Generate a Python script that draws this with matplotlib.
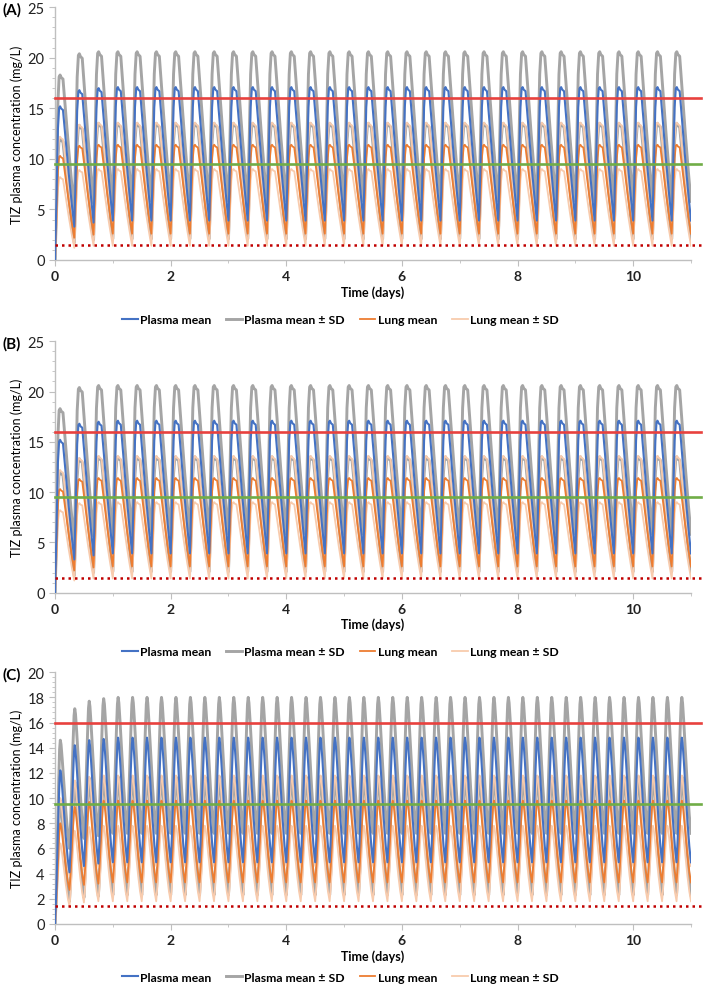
#!/usr/bin/env python3
import matplotlib
matplotlib.use("Agg")
import matplotlib.pyplot as plt
from matplotlib.ticker import MultipleLocator

plt.rcParams['font.family'] = ['Lato', 'DejaVu Sans']

# Thresholds (mg/L)
RED_LINE = 16.0
GREEN_LINE = 9.5
DOTTED_LINE = 1.45

# Dosing for panels A/B: every 8 h, panel C: every 6 h, 11 days
INTERVAL_AB = 8
INTERVAL_C = 6
N_DOSES_AB = 33
N_DOSES_C = 44

# Shape of one dosing cycle (hours after dose, fraction of peak)
SHAPE_AB_HOURS = [0, 0.6, 1.2, 1.7, 2.1, 2.6, 3.3, 4.5, 5.7, 6.9, 8.0]
SHAPE_AB_FRAC = [0, 0.40, 0.85, 0.99, 1.0, 0.98, 0.97, 0.70, 0.44, 0.20, 0]
SHAPE_AB_PEAK = 4
SHAPE_C_HOURS = [0, 0.5, 1.0, 1.5, 1.9, 2.2, 2.5, 3.0, 3.7, 4.5, 5.3, 6.0]
SHAPE_C_FRAC = [0, 0.20, 0.48, 0.76, 0.95, 1.0, 0.96, 0.82, 0.60, 0.34, 0.13, 0]
SHAPE_C_PEAK = 5

# Peaks per dose (first doses, last value holds for the rest), troughs at dose times
AB_PLASMA_PEAK = [15.2, 16.8, 17.0, 17.1]
AB_PLASMA_TROUGH = [0, 3.3, 3.7, 3.9]
AB_PLASMA_HI_PEAK = [18.3, 20.4, 20.6]
AB_PLASMA_HI_TROUGH = [0, 5.0, 5.6, 5.8]
AB_PLASMA_LO_PEAK = [12.0, 13.3, 13.5]
AB_PLASMA_LO_TROUGH = [0, 1.7, 2.0, 2.1]
AB_LUNG_PEAK = [10.3, 11.3, 11.4]
AB_LUNG_TROUGH = [0, 2.2, 2.5, 2.6]
AB_LUNG_HI_PEAK = [12.2, 13.4, 13.6]
AB_LUNG_HI_TROUGH = [0, 3.3, 3.6, 3.7]
AB_LUNG_LO_PEAK = [8.2, 8.9, 9.0]
AB_LUNG_LO_TROUGH = [0, 1.2, 1.4, 1.4]

C_PLASMA_PEAK = [12.2, 14.2, 14.6, 14.7, 14.8]
C_PLASMA_TROUGH = [0, 4.1, 4.6, 4.8, 4.9]
C_PLASMA_HI_PEAK = [14.6, 17.1, 17.7, 17.9, 18.0]
C_PLASMA_HI_TROUGH = [0, 6.0, 6.8, 7.0, 7.2]
C_PLASMA_LO_PEAK = [9.8, 11.3, 11.6, 11.7, 11.7]
C_PLASMA_LO_TROUGH = [0, 1.8, 2.1, 2.2, 2.3]
C_LUNG_PEAK = [8.0, 9.3, 9.7, 9.8]
C_LUNG_TROUGH = [0, 2.7, 3.1, 3.2, 3.3]
C_LUNG_HI_PEAK = [10.0, 11.4, 11.7, 11.8]
C_LUNG_HI_TROUGH = [0, 3.8, 4.3, 4.5, 4.6]
C_LUNG_LO_PEAK = [6.4, 7.4, 7.7, 7.8]
C_LUNG_LO_TROUGH = [0, 1.4, 1.7, 1.8, 1.8]

PLASMA = '#4472C4'
PLASMA_SD = '#A5A5A5'
LUNG = '#ED7D31'
LUNG_SD = '#F8CBAD'
AXIS_GREY = '#BFBFBF'


def curve(peaks, troughs, n_doses, interval, hours, frac, peak_idx):
    t, y = [], []
    for i in range(n_doses):
        p = peaks[min(i, len(peaks) - 1)]
        lo0 = troughs[min(i, len(troughs) - 1)]
        lo1 = troughs[min(i + 1, len(troughs) - 1)]
        for j, (h, f) in enumerate(zip(hours, frac)):
            if i > 0 and j == 0:
                continue
            base = lo0 if j <= peak_idx else lo1
            t.append((i * interval + h) / 24.0)
            y.append(base + f * (p - base))
    return t, y


def draw_panel(rect, tag, series, n_doses, interval, hours, frac, peak_idx,
               ymax, ymajor, legend_y):
    ax = fig.add_axes(rect)
    (pm, pmt, phi, phit, plo, plot_, lm, lmt, lhi, lhit, llo, llot) = series
    args = (n_doses, interval, hours, frac, peak_idx)

    t, y = curve(phi, phit, *args)
    ax.plot(t, y, color=PLASMA_SD, lw=2.1, label='Plasma mean \u00b1 SD', zorder=2)
    t, y = curve(plo, plot_, *args)
    ax.plot(t, y, color=PLASMA_SD, lw=2.1, zorder=2)
    t, y = curve(lhi, lhit, *args)
    ax.plot(t, y, color=LUNG_SD, lw=1.3, label='Lung mean \u00b1 SD', zorder=3)
    t, y = curve(llo, llot, *args)
    ax.plot(t, y, color=LUNG_SD, lw=1.3, zorder=3)
    t, y = curve(lm, lmt, *args)
    ax.plot(t, y, color=LUNG, lw=1.3, label='Lung mean', zorder=4)
    t, y = curve(pm, pmt, *args)
    ax.plot(t, y, color=PLASMA, lw=1.5, label='Plasma mean', zorder=5)

    ax.plot([0, 11.17], [RED_LINE, RED_LINE], color='#E8413E', lw=1.9,
            clip_on=False, zorder=6)
    ax.plot([0, 11.17], [GREEN_LINE, GREEN_LINE], color='#70AD47', lw=1.9,
            clip_on=False, zorder=6)
    ax.plot([0, 11.17], [DOTTED_LINE, DOTTED_LINE], color='#C00000', lw=1.8,
            ls=(0, (1, 1.6)), clip_on=False, zorder=6)

    ax.set_xlim(0, 11)
    ax.set_ylim(0, ymax)
    ax.xaxis.set_major_locator(MultipleLocator(2))
    ax.xaxis.set_minor_locator(MultipleLocator(1))
    ax.yaxis.set_major_locator(MultipleLocator(ymajor))
    ax.yaxis.set_minor_locator(MultipleLocator(ymajor / 5))
    for s in ['top', 'right']:
        ax.spines[s].set_visible(False)
    for s in ['left', 'bottom']:
        ax.spines[s].set_color(AXIS_GREY)
        ax.spines[s].set_linewidth(1.0)
    ax.tick_params(which='both', direction='out', color=AXIS_GREY, labelcolor='#222222')
    ax.tick_params(which='major', length=4)
    ax.tick_params(axis='y', which='major', labelsize=10.5)
    ax.tick_params(axis='x', which='major', labelsize=10)
    ax.tick_params(which='minor', length=2.5)
    for lab in ax.get_xticklabels():
        lab.set_fontweight('bold')
    ax.set_xlabel('Time (days)', fontsize=9, fontweight='bold', labelpad=2)
    ax.set_ylabel('TIZ plasma concentration (mg/L)', fontsize=9)
    ax.yaxis.set_label_coords(-0.05, 0.5)

    fig.text(0.004, rect[1] + rect[3] - 0.002, tag, fontsize=11,
             fontweight='bold', va='center', ha='left')

    h, l = ax.get_legend_handles_labels()
    order = ['Plasma mean', 'Plasma mean \u00b1 SD', 'Lung mean', 'Lung mean \u00b1 SD']
    hs = [h[l.index(o)] for o in order]
    fig.legend(hs, order, loc='center', bbox_to_anchor=(0.48, legend_y),
               ncol=4, frameon=False, handlelength=1.3, handletextpad=0.2,
               columnspacing=1.2, prop={'size': 8.8, 'weight': 'bold'})
    return ax


fig = plt.figure(figsize=(7.09, 9.95), dpi=100)

series_ab = (AB_PLASMA_PEAK, AB_PLASMA_TROUGH, AB_PLASMA_HI_PEAK, AB_PLASMA_HI_TROUGH,
             AB_PLASMA_LO_PEAK, AB_PLASMA_LO_TROUGH, AB_LUNG_PEAK, AB_LUNG_TROUGH,
             AB_LUNG_HI_PEAK, AB_LUNG_HI_TROUGH, AB_LUNG_LO_PEAK, AB_LUNG_LO_TROUGH)
series_c = (C_PLASMA_PEAK, C_PLASMA_TROUGH, C_PLASMA_HI_PEAK, C_PLASMA_HI_TROUGH,
            C_PLASMA_LO_PEAK, C_PLASMA_LO_TROUGH, C_LUNG_PEAK, C_LUNG_TROUGH,
            C_LUNG_HI_PEAK, C_LUNG_HI_TROUGH, C_LUNG_LO_PEAK, C_LUNG_LO_TROUGH)

draw_panel([0.0776, 0.7377, 0.897, 0.254], '(A)', series_ab, N_DOSES_AB, INTERVAL_AB,
           SHAPE_AB_HOURS, SHAPE_AB_FRAC, SHAPE_AB_PEAK, 25, 5, 0.678)
draw_panel([0.0776, 0.4034, 0.897, 0.2526], '(B)', series_ab, N_DOSES_AB, INTERVAL_AB,
           SHAPE_AB_HOURS, SHAPE_AB_FRAC, SHAPE_AB_PEAK, 25, 5, 0.344)
draw_panel([0.0776, 0.0704, 0.897, 0.253], '(C)', series_c, N_DOSES_C, INTERVAL_C,
           SHAPE_C_HOURS, SHAPE_C_FRAC, SHAPE_C_PEAK, 20, 2, 0.017)

fig.savefig('out.png', dpi=100)
